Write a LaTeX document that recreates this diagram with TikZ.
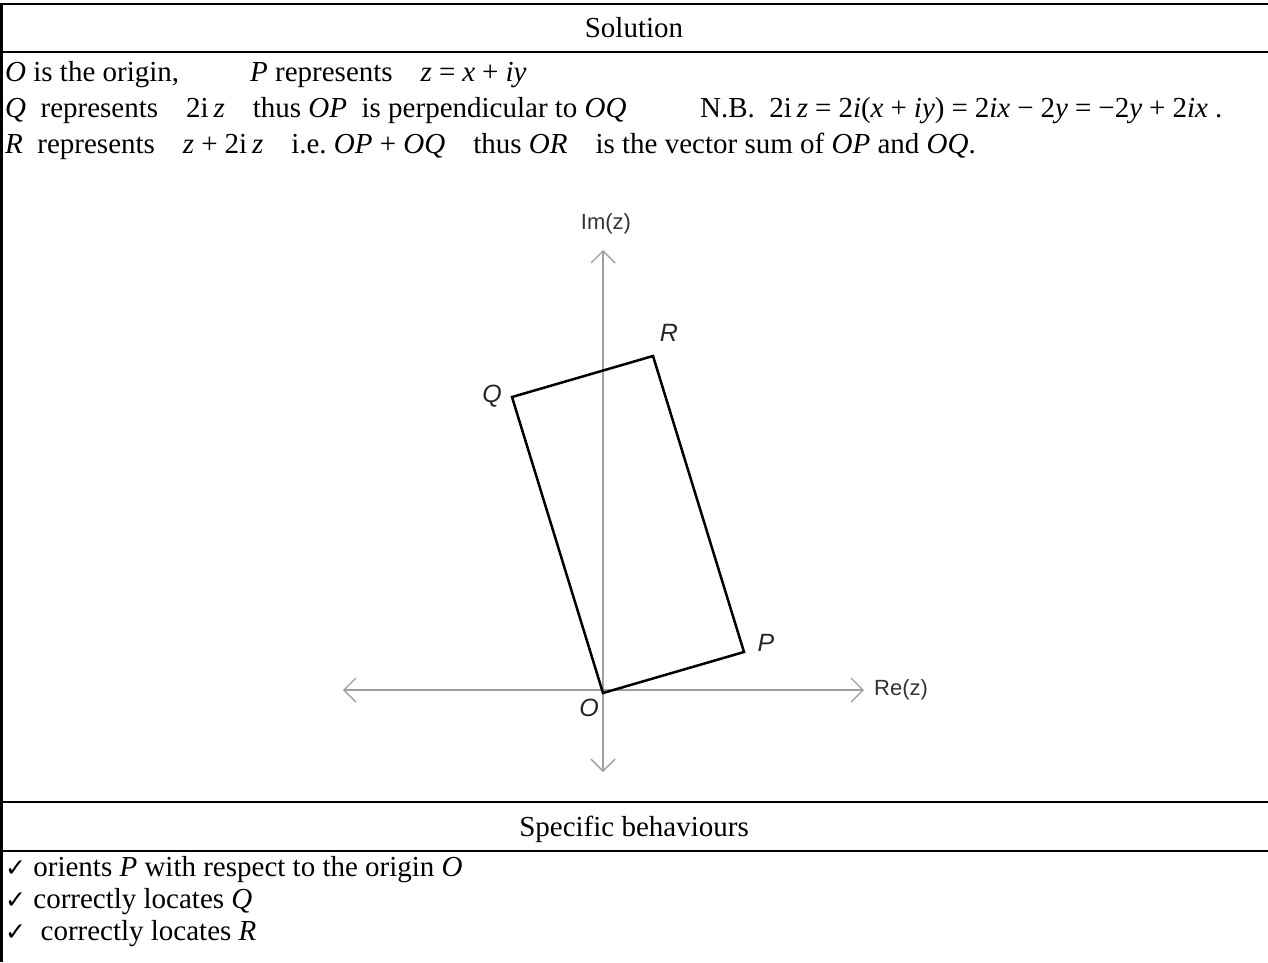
\documentclass[tikz,border=0pt]{standalone}
\usepackage{fontspec}
\setmainfont{Liberation Serif}
\newfontfamily\axisfont{Liberation Sans}
\newfontfamily\tickfont{DejaVu Sans}
\usetikzlibrary{arrows.meta}

\newcommand{\va}[1]{\textit{#1}}
\newcommand{\tick}{{\tickfont\fontsize{25}{25}\selectfont ✓}}
\newcommand{\ecart}{\hspace{28pt}}
\newcommand{\op}[1]{\hspace{7pt}#1\hspace{7pt}}

\tikzset{
  regle/.style={line width=2.2pt},
  axe/.style={gray!75, line width=1.4pt,
    {Straight Barb[length=12pt,width=24pt]}-{Straight Barb[length=12pt,width=24pt]}},
  cote/.style={line width=2.5pt, line join=miter},
  etiq/.style={font=\axisfont\fontsize{25}{25}\selectfont\itshape, text=black!85},
  nomaxe/.style={font=\axisfont\fontsize{22}{22}\selectfont, text=black!80},
}

\begin{document}
\begin{tikzpicture}[x=1pt,y=-1pt,font=\fontsize{29}{34}\selectfont,
  every node/.style={inner sep=0pt}]

\useasboundingbox (0,0) rectangle (1268,962);

% cadre du tableau

\draw[regle] (1.5,4) -- (1.5,962);
\foreach \yy in {4,52,802,851}
  \draw[regle] (0,\yy) -- (1268,\yy);

% en-tetes

\node[anchor=base] (titre) at (634,37) {Solution};
\node[anchor=base] (critere) at (634,836) {Specific behaviours};

% solution

\node[anchor=base west] (ligneA) at (5,81) {\va{O} is the origin,};
\node[anchor=base west] (ligneAbis) at (250,81)
  {\va{P} represents\ecart\va{z}\op{=}\va{x}\op{+}\va{iy}};
\node[anchor=base west] (ligneB) at (5,117)
  {\va{Q}\ \ represents\ecart 2i\,\va{z}\ecart thus \va{OP}\ \ is perpendicular to \va{OQ}};
\node[anchor=base west] (ligneBbis) at (700,117)
  {N.B.\ \ 2i\,\va{z}\op{=}2\va{i}(\va{x}\op{+}\va{iy})\op{=}2\va{ix}\op{−}2\va{y}\op{=}−2\va{y}\op{+}2\va{ix}\ .};
\node[anchor=base west] (ligneC) at (5,153)
  {\va{R}\ \ represents\ecart\va{z}\op{+}2i\,\va{z}\ecart i.e.\ \va{OP} + \va{OQ}\ecart thus \va{OR}\ecart is the vector sum of \va{OP} and \va{OQ}.};

% plan complexe

\coordinate (centre) at (603,690);
\coordinate (axeG) at (343,690);
\coordinate (axeD) at (864,690);
\coordinate (axeH) at (603,250);
\coordinate (axeB) at (603,772);

\draw[axe] (axeG) -- (axeD);
\draw[axe] (axeB) -- (axeH);

\coordinate (O) at (603,693);
\coordinate (P) at (744,652);
\coordinate (Q) at (512,397);
\coordinate (R) at (653,356);

\draw[cote] (O) -- (P) -- (R) -- (Q) -- cycle;

\node[nomaxe] (im) at (606,224) {Im(z)};
\node[nomaxe,anchor=west] (re) at (874,690) {Re(z)};
\node[etiq] (lblO) at (589,708) {O};
\node[etiq] (lblP) at (766,643) {P};
\node[etiq] (lblQ) at (492,396) {Q};
\node[etiq] (lblR) at (669,333) {R};

% criteres

\node[anchor=base west] (critA) at (5,876)
  {\tick\ orients \va{P} with respect to the origin \va{O}};
\node[anchor=base west] (critB) at (5,908)
  {\tick\ correctly locates \va{Q}};
\node[anchor=base west] (critC) at (5,940)
  {\tick\ \ correctly locates \va{R}};

\end{tikzpicture}
\end{document}
